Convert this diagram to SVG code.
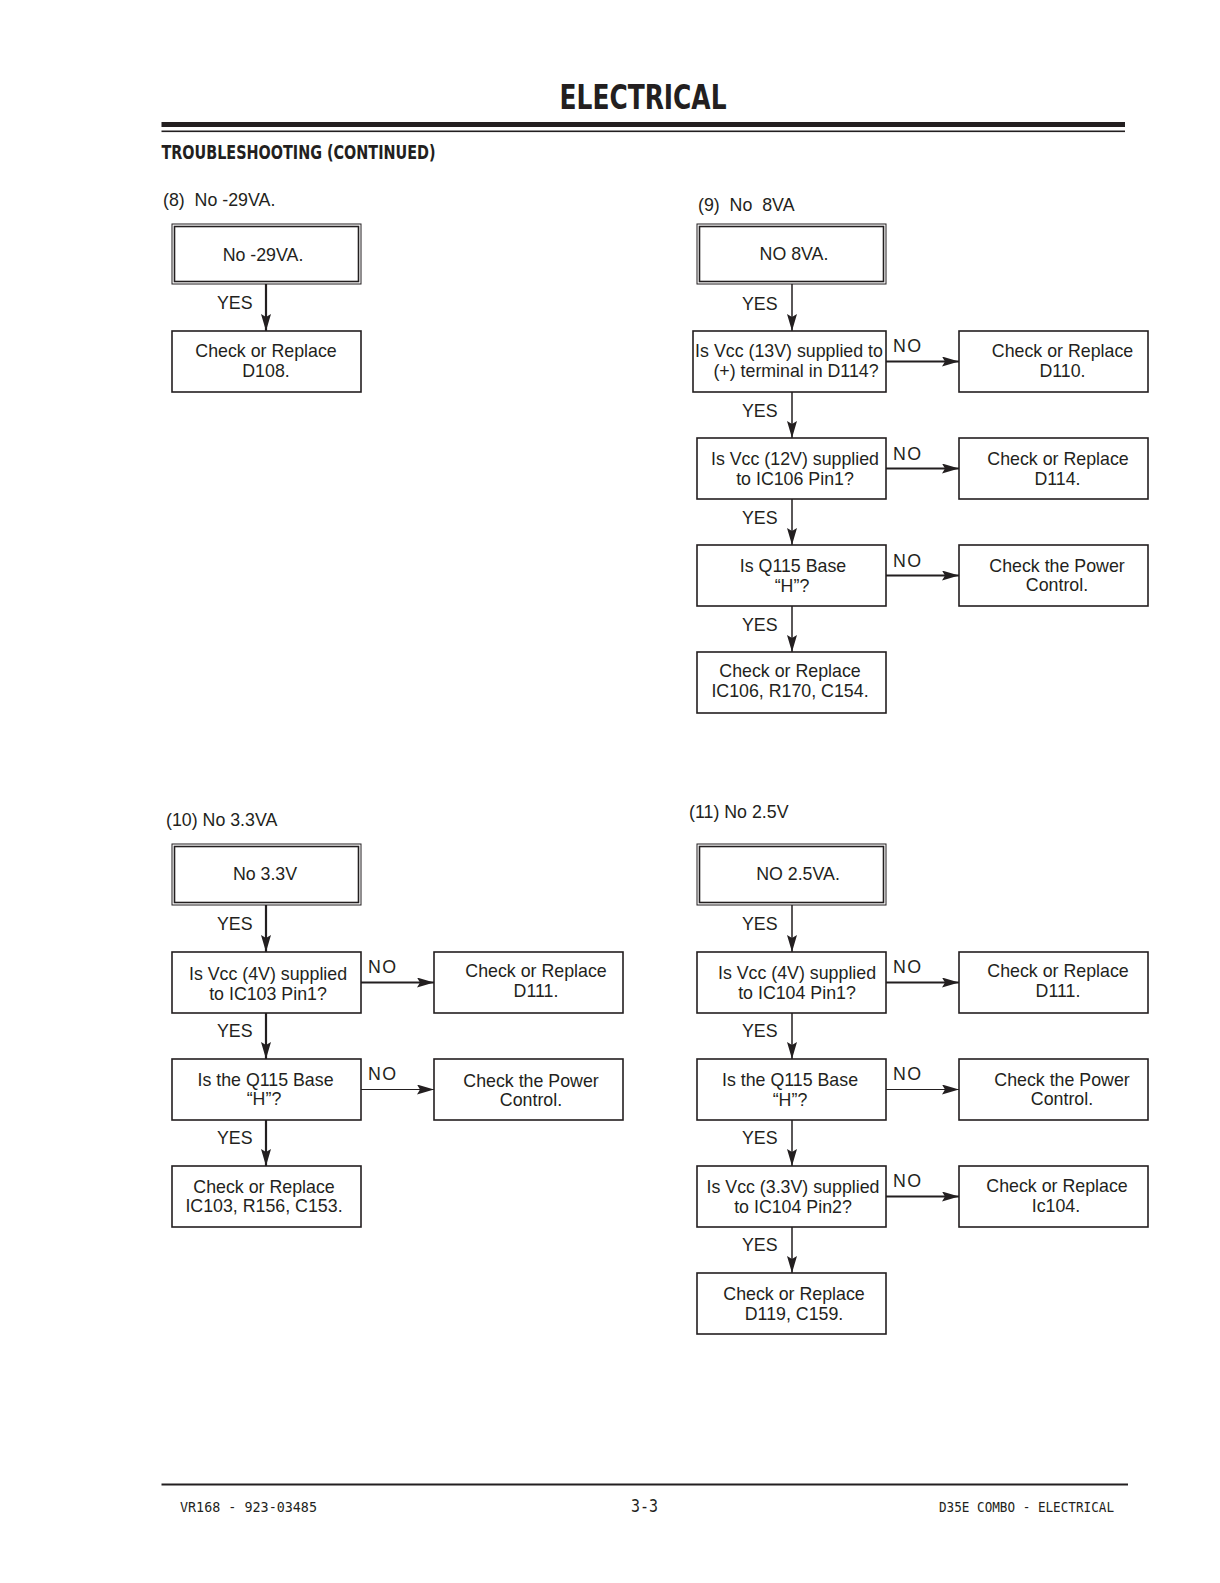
<svg xmlns="http://www.w3.org/2000/svg" width="1220" height="1583" viewBox="0 0 1220 1583">
<style>
.t{font-family:"Liberation Sans",Arial,sans-serif;font-size:17.8px;fill:#231f20}
.m{text-anchor:middle}
.no{letter-spacing:1.5px}
.box{fill:#fff;stroke:#231f20;stroke-width:1.6}
.dbo{fill:#fff;stroke:#231f20;stroke-width:1}
.dbi{fill:none;stroke:#231f20;stroke-width:1.6}
.c{stroke:#231f20;stroke-width:1.5;fill:none}
.ct{stroke:#231f20;stroke-width:2.2;fill:none}
.cn{stroke:#231f20;stroke-width:1.1;fill:none}
.hd{font-family:"DejaVu Sans Condensed","DejaVu Sans",sans-serif;font-weight:bold;fill:#231f20}
.ft{font-family:"DejaVu Sans Mono","Liberation Mono",monospace;fill:#231f20}
</style>
<defs>
<marker id="ah" markerUnits="userSpaceOnUse" markerWidth="17" markerHeight="10" refX="17" refY="5" orient="auto">
<path d="M0,0 L17,5 L0,10 L3,5 z" fill="#231f20"/>
</marker>
</defs>
<rect width="1220" height="1583" fill="#fff"/>

<g id="header">
<text class="hd" x="643" y="109" font-size="34" text-anchor="middle" textLength="167" lengthAdjust="spacingAndGlyphs">ELECTRICAL</text>
<rect x="161.5" y="122" width="963.5" height="5" fill="#231f20"/>
<rect x="161.5" y="130.5" width="963.5" height="1.6" fill="#231f20"/>
<text class="hd" x="161.5" y="159" font-size="19" textLength="274" lengthAdjust="spacingAndGlyphs">TROUBLESHOOTING (CONTINUED)</text>
</g>

<g id="footer">
<rect x="161.5" y="1483.5" width="966.5" height="2" fill="#231f20"/>
<text class="ft" x="180" y="1512" font-size="14" textLength="137" lengthAdjust="spacingAndGlyphs">VR168 - 923-03485</text>
<text class="ft" x="644.5" y="1512" font-size="18" text-anchor="middle" textLength="27" lengthAdjust="spacingAndGlyphs">3-3</text>
<text class="ft" x="939" y="1512" font-size="14" textLength="175" lengthAdjust="spacingAndGlyphs">D35E COMBO - ELECTRICAL</text>
</g>

<g id="titles">
<text class="t" x="163" y="206" font-size="17" xml:space="preserve">(8)  No -29VA.</text>
<text class="t" x="698" y="210.5" font-size="17" xml:space="preserve">(9)  No  8VA</text>
<text class="t" x="166" y="826" font-size="17">(10) No 3.3VA</text>
<text class="t" x="689" y="818" font-size="17">(11) No 2.5V</text>
</g>

<g id="connectors">
<!-- (8) -->
<line class="ct" x1="266" y1="284" x2="266" y2="331" marker-end="url(#ah)"/>
<!-- (9) -->
<line class="c" x1="792" y1="284" x2="792" y2="331" marker-end="url(#ah)"/>
<line class="c" x1="792" y1="392" x2="792" y2="438" marker-end="url(#ah)"/>
<line class="c" x1="792" y1="499" x2="792" y2="545" marker-end="url(#ah)"/>
<line class="c" x1="792" y1="606" x2="792" y2="652" marker-end="url(#ah)"/>
<line class="ct" x1="886" y1="361.5" x2="959" y2="361.5" marker-end="url(#ah)"/>
<line class="ct" x1="886" y1="468.5" x2="959" y2="468.5" marker-end="url(#ah)"/>
<line class="ct" x1="886" y1="575.5" x2="959" y2="575.5" marker-end="url(#ah)"/>
<!-- (10) -->
<line class="ct" x1="266" y1="905" x2="266" y2="952" marker-end="url(#ah)"/>
<line class="ct" x1="266" y1="1013" x2="266" y2="1059" marker-end="url(#ah)"/>
<line class="ct" x1="266" y1="1120" x2="266" y2="1166" marker-end="url(#ah)"/>
<line class="ct" x1="361" y1="982.5" x2="434" y2="982.5" marker-end="url(#ah)"/>
<line class="cn" x1="361" y1="1089.5" x2="434" y2="1089.5" marker-end="url(#ah)"/>
<!-- (11) -->
<line class="c" x1="792" y1="905" x2="792" y2="952" marker-end="url(#ah)"/>
<line class="c" x1="792" y1="1013" x2="792" y2="1059" marker-end="url(#ah)"/>
<line class="c" x1="792" y1="1120" x2="792" y2="1166" marker-end="url(#ah)"/>
<line class="c" x1="792" y1="1227" x2="792" y2="1273" marker-end="url(#ah)"/>
<line class="ct" x1="886" y1="982.5" x2="959" y2="982.5" marker-end="url(#ah)"/>
<line class="cn" x1="886" y1="1089.5" x2="959" y2="1089.5" marker-end="url(#ah)"/>
<line class="ct" x1="886" y1="1196.5" x2="959" y2="1196.5" marker-end="url(#ah)"/>
</g>

<g id="labels">
<text class="t" x="217" y="309">YES</text>
<text class="t" x="742" y="310">YES</text>
<text class="t" x="742" y="417">YES</text>
<text class="t" x="742" y="524">YES</text>
<text class="t" x="742" y="631">YES</text>
<text class="t no" x="893" y="351.5">NO</text>
<text class="t no" x="893" y="459.5">NO</text>
<text class="t no" x="893" y="566.5">NO</text>
<text class="t" x="217" y="930">YES</text>
<text class="t" x="217" y="1037">YES</text>
<text class="t" x="217" y="1144">YES</text>
<text class="t no" x="368" y="972.5">NO</text>
<text class="t no" x="368" y="1079.5">NO</text>
<text class="t" x="742" y="930">YES</text>
<text class="t" x="742" y="1037">YES</text>
<text class="t" x="742" y="1144">YES</text>
<text class="t" x="742" y="1251">YES</text>
<text class="t no" x="893" y="972.5">NO</text>
<text class="t no" x="893" y="1079.5">NO</text>
<text class="t no" x="893" y="1186.5">NO</text>
</g>

<!-- (8) nodes -->
<g id="n8a"><rect class="dbo" x="172" y="224" width="189" height="60"/><rect class="dbi" x="174.5" y="226.5" width="184" height="55"/>
<text class="t m" x="263" y="261">No -29VA.</text></g>
<g id="n8b"><rect class="box" x="172" y="331" width="189" height="61"/>
<text class="t m" x="266" y="357">Check or Replace</text><text class="t m" x="266" y="377">D108.</text></g>

<!-- (9) nodes -->
<g id="n9a"><rect class="dbo" x="697" y="224" width="189" height="60"/><rect class="dbi" x="699.5" y="226.5" width="184" height="55"/>
<text class="t m" x="794" y="260">NO 8VA.</text></g>
<g id="n9b"><rect class="box" x="693" y="331" width="193" height="61"/>
<text class="t m" x="789" y="357">Is Vcc (13V) supplied to</text><text class="t m" x="796" y="377">(+) terminal in D114?</text></g>
<g id="n9c"><rect class="box" x="697" y="438" width="189" height="61"/>
<text class="t m" x="795" y="464.5">Is Vcc (12V) supplied</text><text class="t m" x="795" y="484.5">to IC106 Pin1?</text></g>
<g id="n9d"><rect class="box" x="697" y="545" width="189" height="61"/>
<text class="t m" x="793" y="571.5">Is Q115 Base</text><text class="t m" x="792" y="591.5">“H”?</text></g>
<g id="n9e"><rect class="box" x="697" y="652" width="189" height="61"/>
<text class="t m" x="790" y="677">Check or Replace</text><text class="t m" x="790" y="696.5">IC106, R170, C154.</text></g>
<g id="n9f"><rect class="box" x="959" y="331" width="189" height="61"/>
<text class="t m" x="1062.5" y="356.5">Check or Replace</text><text class="t m" x="1062.5" y="376.5">D110.</text></g>
<g id="n9g"><rect class="box" x="959" y="438" width="189" height="61"/>
<text class="t m" x="1058" y="464.5">Check or Replace</text><text class="t m" x="1057.5" y="484.5">D114.</text></g>
<g id="n9h"><rect class="box" x="959" y="545" width="189" height="61"/>
<text class="t m" x="1057" y="571.5">Check the Power</text><text class="t m" x="1057" y="591">Control.</text></g>

<!-- (10) nodes -->
<g id="n10a"><rect class="dbo" x="172" y="844" width="189" height="61"/><rect class="dbi" x="174.5" y="846.5" width="184" height="56"/>
<text class="t m" x="265" y="879.5">No 3.3V</text></g>
<g id="n10b"><rect class="box" x="172" y="952" width="189" height="61"/>
<text class="t m" x="268" y="980">Is Vcc (4V) supplied</text><text class="t m" x="268" y="999.5">to IC103 Pin1?</text></g>
<g id="n10c"><rect class="box" x="172" y="1059" width="189" height="61"/>
<text class="t m" x="265.5" y="1085.5">Is the Q115 Base</text><text class="t m" x="264" y="1105">“H”?</text></g>
<g id="n10d"><rect class="box" x="172" y="1166" width="189" height="61"/>
<text class="t m" x="264" y="1192.5">Check or Replace</text><text class="t m" x="264" y="1212">IC103, R156, C153.</text></g>
<g id="n10e"><rect class="box" x="434" y="952" width="189" height="61"/>
<text class="t m" x="536" y="976.5">Check or Replace</text><text class="t m" x="536" y="996.5">D111.</text></g>
<g id="n10f"><rect class="box" x="434" y="1059" width="189" height="61"/>
<text class="t m" x="531" y="1086.5">Check the Power</text><text class="t m" x="531" y="1106">Control.</text></g>

<!-- (11) nodes -->
<g id="n11a"><rect class="dbo" x="697" y="844" width="189" height="61"/><rect class="dbi" x="699.5" y="846.5" width="184" height="56"/>
<text class="t m" x="798" y="879.5">NO 2.5VA.</text></g>
<g id="n11b"><rect class="box" x="697" y="952" width="189" height="61"/>
<text class="t m" x="797" y="979">Is Vcc (4V) supplied</text><text class="t m" x="797" y="999">to IC104 Pin1?</text></g>
<g id="n11c"><rect class="box" x="697" y="1059" width="189" height="61"/>
<text class="t m" x="790" y="1086">Is the Q115 Base</text><text class="t m" x="790" y="1106">“H”?</text></g>
<g id="n11d"><rect class="box" x="697" y="1166" width="189" height="61"/>
<text class="t m" x="793" y="1193">Is Vcc (3.3V) supplied</text><text class="t m" x="793" y="1213">to IC104 Pin2?</text></g>
<g id="n11e"><rect class="box" x="697" y="1273" width="189" height="61"/>
<text class="t m" x="794" y="1300">Check or Replace</text><text class="t m" x="794" y="1320">D119, C159.</text></g>
<g id="n11f"><rect class="box" x="959" y="952" width="189" height="61"/>
<text class="t m" x="1058" y="976.5">Check or Replace</text><text class="t m" x="1058" y="996.5">D111.</text></g>
<g id="n11g"><rect class="box" x="959" y="1059" width="189" height="61"/>
<text class="t m" x="1062" y="1085.5">Check the Power</text><text class="t m" x="1062" y="1105">Control.</text></g>
<g id="n11h"><rect class="box" x="959" y="1166" width="189" height="61"/>
<text class="t m" x="1057" y="1192">Check or Replace</text><text class="t m" x="1056" y="1212">Ic104.</text></g>
</svg>
